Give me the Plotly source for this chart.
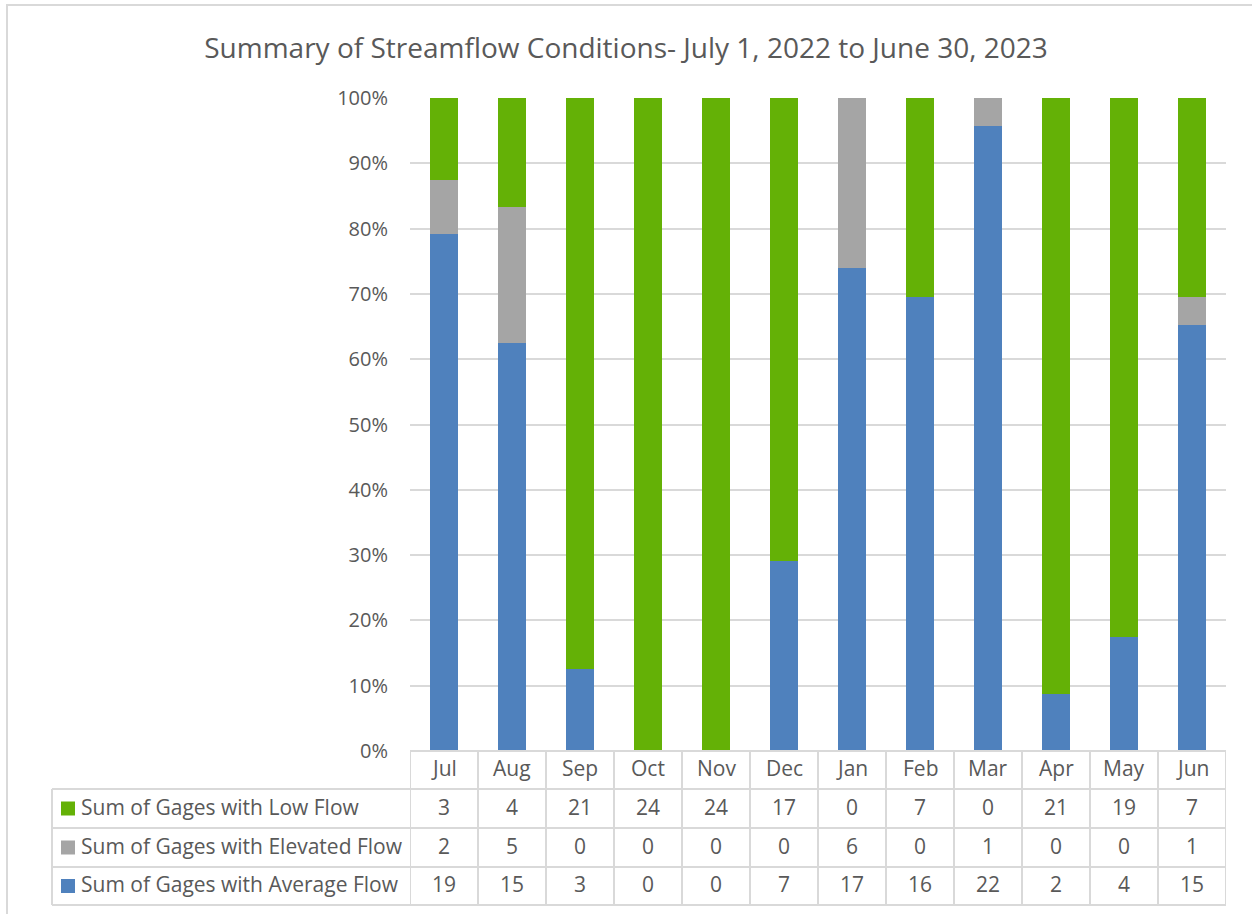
import plotly.graph_objects as go

W, H = 1252, 914

# ---- data -------------------------------------------------------------
months = ["Jul", "Aug", "Sep", "Oct", "Nov", "Dec", "Jan", "Feb", "Mar", "Apr", "May", "Jun"]
low_flow = [3, 4, 21, 24, 24, 17, 0, 7, 0, 21, 19, 7]
elevated_flow = [2, 5, 0, 0, 0, 0, 6, 0, 1, 0, 0, 1]
average_flow = [19, 15, 3, 0, 0, 7, 17, 16, 22, 2, 4, 15]

series_names = [
    "Sum of Gages with Low Flow",
    "Sum of Gages with Elevated Flow",
    "Sum of Gages with Average Flow",
]
y_ticks = [0, 10, 20, 30, 40, 50, 60, 70, 80, 90, 100]

# ---- styling ------------------------------------------------------------
GREEN = "#64B106"
GRAY = "#A5A5A5"
BLUE = "#4F81BD"
GRID = "#D9D9D9"
TEXT = "#595959"
FONT = "Open Sans"
TABLE_SIZE = 21


def px(x):
    return x / W


def py(y):
    return 1 - y / H


plot_left, plot_right = 410, 1226
plot_top, plot_bottom = 98, 751
table_left = 52
row_lines = [751, 789, 828, 867, 905]
row_centers = [(row_lines[i] + row_lines[i + 1]) / 2 - 2 for i in range(4)]

fig = go.Figure()
# stacked from the bottom: average, elevated, low
for name, vals, col in [
    (series_names[2], average_flow, BLUE),
    (series_names[1], elevated_flow, GRAY),
    (series_names[0], low_flow, GREEN),
]:
    fig.add_trace(go.Bar(x=list(range(len(months))), y=vals, name=name,
                         marker=dict(color=col, line=dict(width=0))))

shapes = []
annotations = []

# outer chart border
shapes.append(dict(type="rect", xref="paper", yref="paper",
                   x0=px(7), x1=px(1270), y0=py(5), y1=py(930),
                   line=dict(color=GRID, width=2)))

# data table: horizontal rules
for k, yl in enumerate(row_lines):
    x0 = plot_left if k == 0 else table_left
    shapes.append(dict(type="line", xref="paper", yref="paper",
                       x0=px(x0), x1=px(plot_right), y0=py(yl), y1=py(yl),
                       line=dict(color=GRID, width=2)))
# data table: vertical rules at category boundaries
for i in range(len(months) + 1):
    shapes.append(dict(type="line", xref="x", yref="paper",
                       x0=i - 0.5, x1=i - 0.5, y0=py(row_lines[0]), y1=py(row_lines[-1]),
                       line=dict(color=GRID, width=2)))
# left edge of legend column
shapes.append(dict(type="line", xref="paper", yref="paper",
                   x0=px(table_left), x1=px(table_left), y0=py(row_lines[1]), y1=py(row_lines[-1]),
                   line=dict(color=GRID, width=2)))

# month header row
for i, m in enumerate(months):
    annotations.append(dict(x=i, y=py(row_centers[0]), xref="x", yref="paper",
                            text=m, showarrow=False, yanchor="middle",
                            font=dict(family=FONT, size=TABLE_SIZE, color=TEXT)))

# series rows: legend key + values
table_rows = [
    (series_names[0], low_flow, GREEN),
    (series_names[1], elevated_flow, GRAY),
    (series_names[2], average_flow, BLUE),
]
for r, (name, vals, col) in enumerate(table_rows):
    yc = row_centers[r + 1]
    shapes.append(dict(type="rect", xref="paper", yref="paper",
                       x0=px(61), x1=px(75), y0=py(yc + 9), y1=py(yc - 5),
                       fillcolor=col, line=dict(width=0)))
    annotations.append(dict(x=px(79), y=py(yc), xref="paper", yref="paper",
                            text=name, showarrow=False, xanchor="left", yanchor="middle",
                            font=dict(family=FONT, size=TABLE_SIZE, color=TEXT)))
    for i, v in enumerate(vals):
        annotations.append(dict(x=i, y=py(yc), xref="x", yref="paper",
                                text=str(v), showarrow=False, yanchor="middle",
                                font=dict(family=FONT, size=TABLE_SIZE, color=TEXT)))

fig.update_layout(
    width=W, height=H,
    margin=dict(l=0, r=0, t=0, b=0),
    paper_bgcolor="white", plot_bgcolor="white",
    barmode="stack", barnorm="percent", bargap=0.6,
    showlegend=False,
    title=dict(text="Summary of Streamflow Conditions- July 1, 2022 to June 30, 2023",
               x=0.5, xanchor="center", y=py(48), yanchor="middle", xref="paper",
               font=dict(family=FONT, size=28, color=TEXT)),
    xaxis=dict(domain=[px(plot_left), px(plot_right)], range=[-0.5, len(months) - 0.5],
               showticklabels=False, showgrid=False, zeroline=False, showline=False,
               automargin=False),
    yaxis=dict(domain=[py(plot_bottom), py(plot_top)], range=[0, 100],
               tickvals=y_ticks, ticktext=[f"{t}%" for t in y_ticks],
               showgrid=True, gridcolor=GRID, gridwidth=1.5, zeroline=False, showline=False,
               ticks="", ticklabelstandoff=21, automargin=False,
               tickfont=dict(family=FONT, size=20, color=TEXT)),
    shapes=shapes,
    annotations=annotations,
)

fig.write_html("out.html")
